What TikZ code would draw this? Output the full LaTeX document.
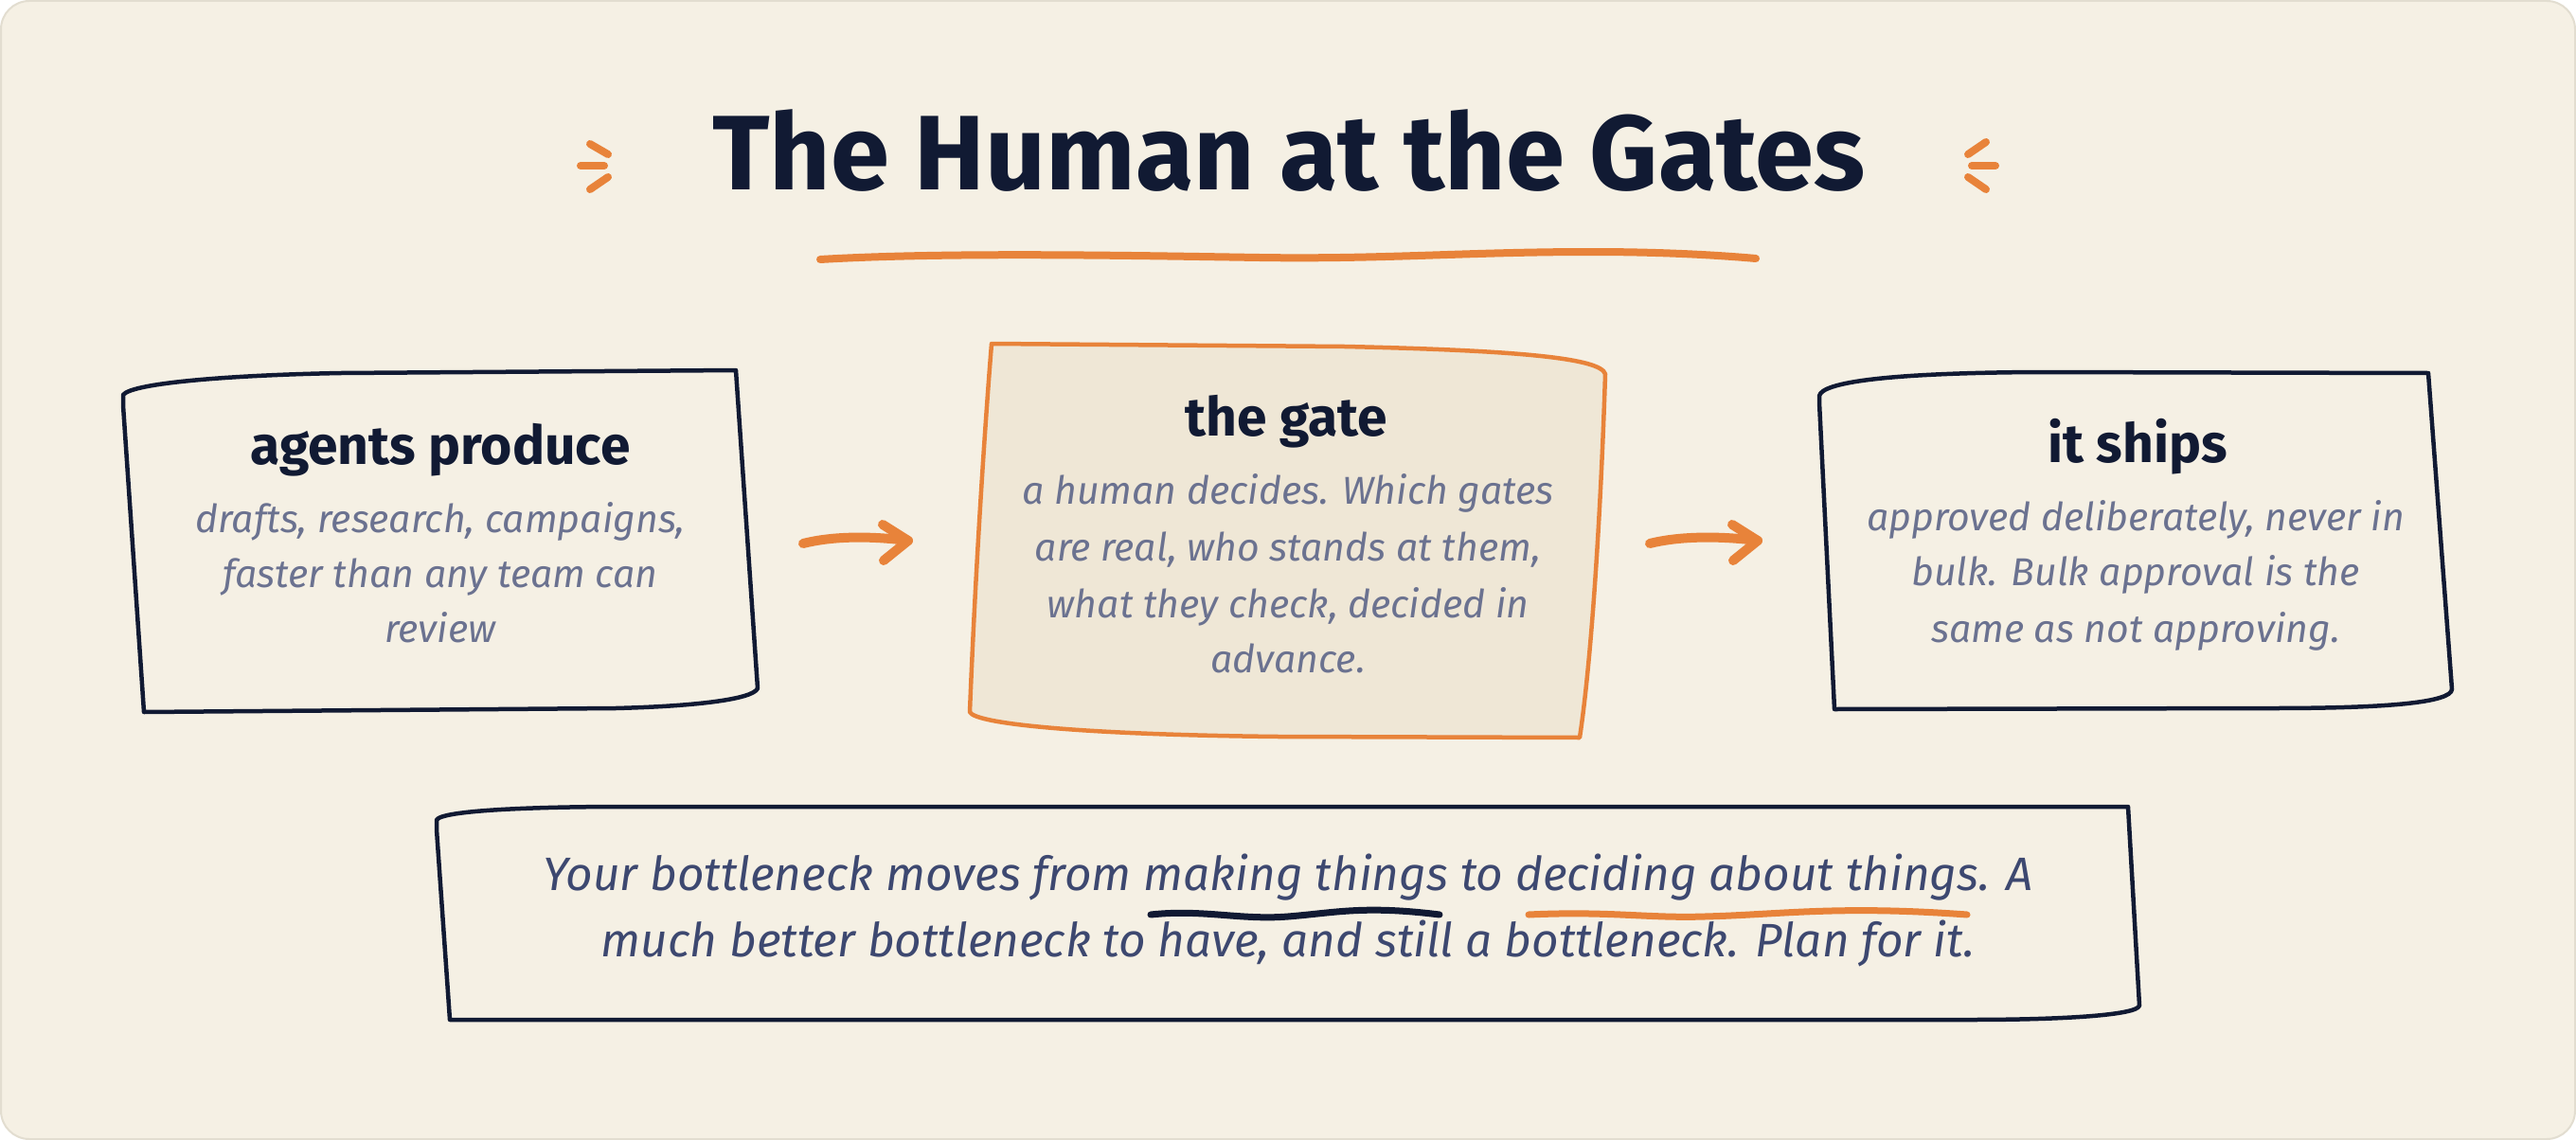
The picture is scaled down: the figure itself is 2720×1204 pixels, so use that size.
\documentclass[tikz,border=0pt]{standalone}
\usepackage{fontspec}
\setmainfont{Fira Sans}
\usetikzlibrary{calc}
\definecolor{bgc}{HTML}{F5F0E4}
\definecolor{bordc}{HTML}{E2DDD0}
\definecolor{navy}{HTML}{111A33}
\definecolor{accent}{HTML}{E8833A}
\definecolor{gatefill}{HTML}{EFE7D6}
\definecolor{bodygray}{HTML}{6B7290}
\definecolor{btxt}{HTML}{3D4870}
\tikzset{
  titletxt/.style={anchor=base, inner sep=0pt, text=navy, font=\fontsize{112}{118}\selectfont\bfseries},
  headtxt/.style={anchor=base, inner sep=0pt, text=navy, font=\fontsize{57}{62}\selectfont\bfseries},
  bodytxt/.style={anchor=base, inner sep=0pt, text=bodygray, font=\fontsize{41}{46}\selectfont\itshape},
  bottomtxt/.style={anchor=base, inner sep=0pt, text=btxt, font=\fontsize{49.5}{54}\selectfont\itshape},
  inkbox/.style={draw=navy, line width=4.5pt, line join=round},
  gatebox/.style={draw=accent, fill=gatefill, line width=4.5pt, line join=round},
  flowarrow/.style={draw=accent, line width=10pt, line cap=round, line join=round},
  spark/.style={draw=accent, line width=8pt, line cap=round},
  squiggle/.style={line width=7pt, line cap=round},
}
\begin{document}
\begin{tikzpicture}[x=1pt,y=-1pt]
\useasboundingbox (0,0) rectangle (2720,1204);
% background card
\draw[fill=bgc, draw=bordc, line width=2pt, rounded corners=30pt] (1,1) rectangle (2719,1203);

% title
\node[titletxt] (title) at (1361,200) {The Human at the Gates};
\draw[spark] (623,152) -- (642,163);
\draw[spark] (613,175) -- (638,175);
\draw[spark] (642,187) -- (623,200);
\draw[spark] (2097,150) -- (2078,163);
\draw[spark] (2082,175) -- (2107,175);
\draw[spark] (2078,187) -- (2097,200);
\draw[accent, line width=8pt, line cap=round] (866,274) .. controls (1000,266) and (1200,270) .. (1330,272) .. controls (1460,274) and (1550,266) .. (1680,266) .. controls (1760,266) and (1820,270) .. (1854,273);

% box 1
\draw[inkbox] (130,428) -- (130,417) .. controls (140,404) and (250,396) .. (360,394) -- (777,391) -- (800,727) .. controls (795,739) and (730,746) .. (650,748) -- (152,752) -- cycle;
\node[headtxt] (h1) at (465,490) {agents produce};
\node[bodytxt] (b1a) at (465,562) {drafts, research, campaigns,};
\node[bodytxt] (b1b) at (465,620) {faster than any team can};
\node[bodytxt] (b1c) at (465,678) {review};

% box 2
\draw[gatebox] (1047,363) -- (1420,366) .. controls (1600,370) and (1690,378) .. (1695,395) .. controls (1690,550) and (1680,700) .. (1668,779) -- (1350,778) .. controls (1150,776) and (1030,765) .. (1024,752) .. controls (1030,600) and (1040,450) .. cycle;
\node[headtxt] (h2) at (1358,460) {the gate};
\node[bodytxt] (b2a) at (1360,532) {a human decides. Which gates};
\node[bodytxt] (b2b) at (1360,592) {are real, who stands at them,};
\node[bodytxt] (b2c) at (1360,652) {what they check, decided in};
\node[bodytxt] (b2d) at (1360,710) {advance.};

% box 3
\draw[inkbox] (1921,425) -- (1921,418) .. controls (1924,404) and (1990,394) .. (2150,393) -- (2564,394) -- (2589,728) .. controls (2588,742) and (2520,748) .. (2400,748) -- (1937,749) -- cycle;
\node[headtxt] (h3) at (2257,488) {it ships};
\node[bodytxt] (b3a) at (2255,560) {approved deliberately, never in};
\node[bodytxt] (b3b) at (2255,618) {bulk. Bulk approval is the};
\node[bodytxt] (b3c) at (2255,678) {same as not approving.};

% arrows
\coordinate (a1s) at (848,574);
\coordinate (a1e) at (959,571);
\coordinate (a2s) at (1742,574);
\coordinate (a2e) at (1856,571);
\draw[flowarrow] (a1s) .. controls ($(a1s)+(32,-8)$) and ($(a1e)+(-40,-5)$) .. (a1e);
\draw[flowarrow] (a1e) ++(-27,-17) -- (a1e) -- ++(-26,21);
\draw[flowarrow] (a2s) .. controls ($(a2s)+(32,-8)$) and ($(a2e)+(-40,-5)$) .. (a2e);
\draw[flowarrow] (a2e) ++(-27,-17) -- (a2e) -- ++(-26,21);

% bottom box
\draw[inkbox] (461,876) -- (461,866) .. controls (466,856) and (560,852) .. (660,852) -- (2247,852) -- (2259,1062) .. controls (2257,1072) and (2180,1077) .. (2080,1077) -- (475,1077) -- cycle;
\node[bottomtxt] (q1) at (1360,940) {Your bottleneck moves from making things to deciding about things. A};
\node[bottomtxt] (q2) at (1360,1010) {much better bottleneck to have, and still a bottleneck. Plan for it.};
\draw[squiggle, navy] (1215,966) .. controls (1270,960) and (1310,972) .. (1360,968) .. controls (1410,964) and (1440,956) .. (1520,966);
\draw[squiggle, accent] (1614,966) .. controls (1700,962) and (1740,970) .. (1800,968) .. controls (1880,966) and (1940,956) .. (2077,966);
\end{tikzpicture}
\end{document}
